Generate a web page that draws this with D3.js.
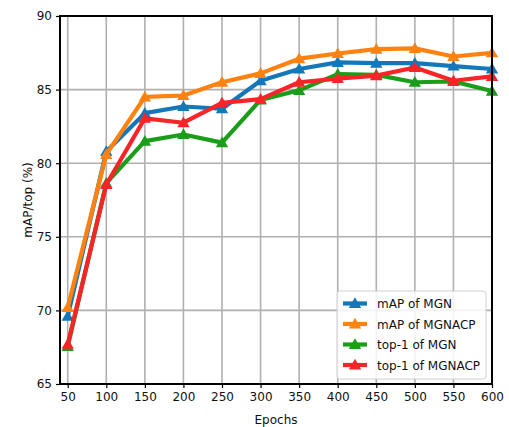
<!DOCTYPE html>
<html>
<head>
<meta charset="utf-8">
<script src="https://cdn.jsdelivr.net/npm/d3@7"></script>
<style>
  html, body { margin: 0; padding: 0; background: #fff; }
  svg { display: block; font-family: "DejaVu Sans", sans-serif; }
</style>
</head>
<body>
<svg id="chart" width="509" height="427"></svg>
<script>
// Training curves: mAP and top-1 accuracy per epoch
const epochs = [50, 100, 150, 200, 250, 300, 350, 400, 450, 500, 550, 600];
const mapMGN     = [69.6, 80.8, 83.4, 83.85, 83.7, 85.6, 86.4, 86.85, 86.8, 86.8, 86.6, 86.4];
const mapMGNACP  = [70.2, 80.6, 84.5, 84.6, 85.5, 86.1, 87.1, 87.45, 87.75, 87.8, 87.25, 87.5];
const top1MGN    = [67.55, 78.65, 81.5, 81.95, 81.4, 84.3, 84.95, 86.05, 86.0, 85.5, 85.55, 84.9];
const top1MGNACP = [67.7, 78.55, 83.05, 82.75, 84.1, 84.35, 85.5, 85.75, 85.95, 86.5, 85.6, 85.9];
const seriesNames = ["mAP of MGN", "mAP of MGNACP", "top-1 of MGN", "top-1 of MGNACP"];
const seriesColors = ["#1477b8", "#ff8210", "#1a9e1a", "#f82428"];
const yTicks = [65, 70, 75, 80, 85, 90];

const series = [mapMGN, mapMGNACP, top1MGN, top1MGNACP].map((vals, i) => ({
  name: seriesNames[i],
  color: seriesColors[i],
  points: epochs.map((e, j) => ({ x: e, y: vals[j] }))
}));

const svg = d3.select("#chart");
const margin = { left: 60, top: 16, right: 17, bottom: 43 };
const W = 509, H = 427;
const x = d3.scaleLinear().domain([40, 600]).range([margin.left, W - margin.right]);
const y = d3.scaleLinear().domain([65, 90]).range([H - margin.bottom, margin.top]);

// grid
const grid = svg.append("g");
grid.selectAll("line.v").data(epochs).join("line")
  .attr("x1", d => x(d)).attr("x2", d => x(d))
  .attr("y1", y(65)).attr("y2", y(90))
  .attr("stroke", "#b0b0b0").attr("stroke-width", 1.6);
grid.selectAll("line.h").data(yTicks).join("line")
  .attr("x1", x(40)).attr("x2", x(600))
  .attr("y1", d => y(d)).attr("y2", d => y(d))
  .attr("stroke", "#b0b0b0").attr("stroke-width", 1.6);

// lines and triangle markers
const line = d3.line().x(d => x(d.x)).y(d => y(d.y));
const tri = d3.symbol().type(d3.symbolTriangle).size(66);
series.forEach(s => {
  const g = svg.append("g");
  g.append("path").datum(s.points)
    .attr("d", line).attr("fill", "none")
    .attr("stroke", s.color).attr("stroke-width", 4.2)
    .attr("stroke-linejoin", "round");
  g.selectAll("path.m").data(s.points).join("path")
    .attr("d", tri)
    .attr("transform", d => `translate(${x(d.x)},${y(d.y) + 1})`)
    .attr("fill", s.color);
});

// axes
const xAxis = d3.axisBottom(x).tickValues(epochs).tickSize(4).tickPadding(4);
const yAxis = d3.axisLeft(y).tickValues(yTicks).tickSize(4).tickPadding(4);
const gx = svg.append("g").attr("transform", `translate(0,${y(65)})`).call(xAxis);
const gy = svg.append("g").attr("transform", `translate(${x(40)},0)`).call(yAxis);
[gx, gy].forEach(g => {
  g.select(".domain").remove();
  g.selectAll(".tick line").attr("stroke", "#000").attr("stroke-width", 1.2);
  g.selectAll(".tick text").attr("font-size", 12).attr("fill", "#111")
    .attr("font-family", "DejaVu Sans, sans-serif");
});

// frame
svg.append("rect")
  .attr("x", x(40)).attr("y", y(90))
  .attr("width", x(600) - x(40)).attr("height", y(65) - y(90))
  .attr("fill", "none").attr("stroke", "#000").attr("stroke-width", 2);

// axis titles
svg.append("text").attr("x", (x(40) + x(600)) / 2).attr("y", 424)
  .attr("text-anchor", "middle").attr("font-size", 12).attr("fill", "#111")
  .text("Epochs");
svg.append("text")
  .attr("transform", `translate(32,${(y(65) + y(90)) / 2}) rotate(-90)`)
  .attr("text-anchor", "middle").attr("font-size", 12).attr("fill", "#111")
  .text("mAP/top (%)");

// legend
const lg = svg.append("g").attr("transform", "translate(337,291)");
lg.append("rect").attr("width", 149).attr("height", 88).attr("rx", 3)
  .attr("fill", "rgba(255,255,255,0.85)").attr("stroke", "#d0d0d0").attr("stroke-width", 1);
series.forEach((s, i) => {
  const yy = 12.5 + i * 20.5;
  lg.append("line").attr("x1", 6).attr("x2", 30).attr("y1", yy).attr("y2", yy)
    .attr("stroke", s.color).attr("stroke-width", 4.2);
  lg.append("path").attr("d", tri).attr("transform", `translate(18,${yy + 1})`).attr("fill", s.color);
  lg.append("text").attr("x", 40).attr("y", yy + 4.5).attr("font-size", 12).attr("fill", "#111")
    .text(s.name);
});
</script>
</body>
</html>
